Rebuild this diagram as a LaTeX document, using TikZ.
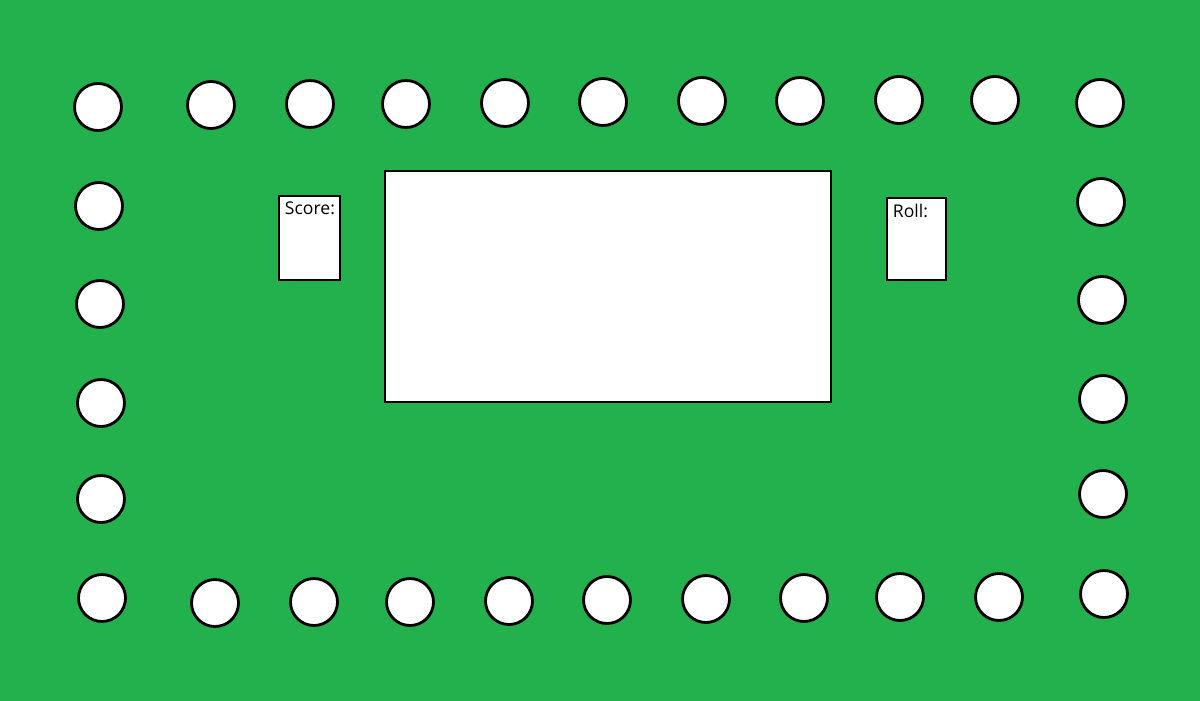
\documentclass[tikz,border=0pt]{standalone}
\usepackage{fontspec}
\setmainfont{Open Sans}
\usepackage{xcolor}
\definecolor{boardgreen}{RGB}{34,177,76}
\usetikzlibrary{positioning}

\begin{document}
\begin{tikzpicture}[
    x=0.02cm, y=-0.02cm,
    spot/.style={circle, draw, line width=1.6pt, fill=white, minimum size=0.94cm, inner sep=0pt},
    card/.style={rectangle, draw, line width=1.6pt, fill=white, inner sep=0pt},
    tag/.style={anchor=north west, font=\fontsize{10}{11}\selectfont, inner sep=0pt}
]
% board
\useasboundingbox (0,0) rectangle (1200,700);
\fill[boardgreen] (-5,-5) rectangle (1205,705);

% top row
\foreach \x/\y [count=\i] in {98/107, 211/105, 310/104, 406/104, 505/103, 603/102, 702/101, 800/101, 899/100, 995/100, 1100/103}
    \node[spot] (T\i) at (\x,\y) {};
% bottom row
\foreach \x/\y [count=\i] in {102/598, 215/603, 314/602, 410/602, 509/601, 607/600, 706/599, 804/598, 900/597, 999/597, 1104/594}
    \node[spot] (B\i) at (\x,\y) {};
% left column
\foreach \x/\y [count=\i] in {99/206, 100/304, 101/403, 101/499}
    \node[spot] (L\i) at (\x,\y) {};
% right column
\foreach \x/\y [count=\i] in {1101/202, 1102/300, 1103/399, 1103/494}
    \node[spot] (R\i) at (\x,\y) {};

% centre area and cards
\node[card, minimum width=8.92cm, minimum height=4.62cm] (field) at (608,286.5) {};
\node[card, minimum width=1.22cm, minimum height=1.68cm] (score) at (309.5,238) {};
\node[card, minimum width=1.18cm, minimum height=1.64cm] (roll) at (916.5,239) {};
\node[tag, xshift=4pt, yshift=-4pt] at (score.north west) {Score:};
\node[tag, xshift=4pt, yshift=-4pt] at (roll.north west) {Roll:};
\end{tikzpicture}
\end{document}
